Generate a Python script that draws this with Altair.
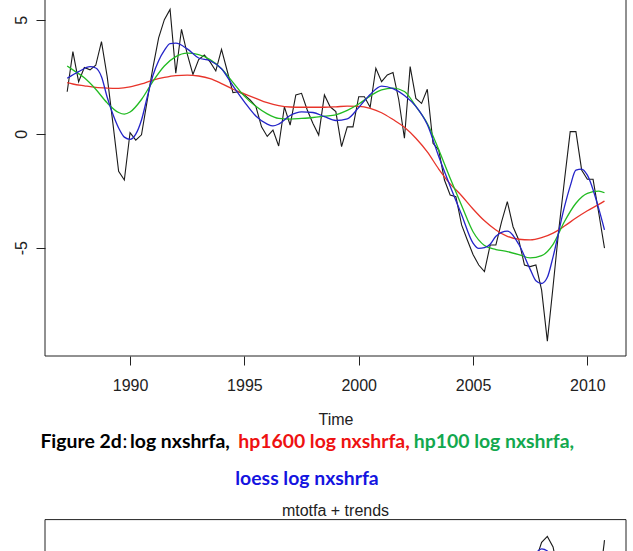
import altair as alt
import pandas as pd

# ---------------- data ----------------
# quarterly time index 1987Q2 .. 2010Q4
time_q = [1987.25 + 0.25 * i for i in range(95)]
log_nxshrfa = [
    1.84, 3.6, 2.28,
    2.9, 2.8, 3.0, 4.04,
    2.5, 0.45, -1.65, -2.03,
    0.05, -0.28, -0.05, 1.45,
    2.9, 4.2, 5.0, 5.45,
    2.65, 4.58, 3.5, 2.6,
    3.25, 3.45, 3.15, 2.75,
    3.7, 2.75, 1.8, 1.84,
    1.7, 1.48, 1.2, 0.3,
    -0.12, 0.16, -0.54, 1.18,
    0.38, 1.7, 1.77, 1.04,
    0.45, -0.06, 1.7, 1.18,
    0.97, -0.57, 0.3, 0.3,
    1.62, 1.62, 1.16, 2.87,
    2.28, 2.58, 2.68, 1.5,
    -0.2, 2.94, 1.55, 1.33,
    1.95, -0.42, -0.72, -2.03,
    -2.69, -2.76, -4.0, -4.66,
    -5.3, -5.76, -6.05, -4.88,
    -4.88, -3.86, -2.98, -4.08,
    -4.66, -5.76, -5.83, -5.76,
    -6.86, -9.1, -6.7, -4.22,
    -2.03, 0.09, 0.09, -1.59,
    -2.0, -2.0, -3.49, -5.02,
]

hp1600_t = [1987.25, 1987.5, 1988.0, 1988.5, 1989.0, 1989.5, 1990.0, 1990.5, 1991.0, 1991.5,
            1992.0, 1992.5, 1993.0, 1993.5, 1994.0, 1994.5, 1995.0, 1995.5, 1996.0, 1996.5,
            1997.0, 1997.5, 1998.0, 1998.5, 1999.0, 1999.5, 2000.0, 2000.5, 2001.0, 2001.5,
            2002.0, 2002.5, 2003.0, 2003.5, 2004.0, 2004.5, 2005.0, 2005.5, 2006.0, 2006.5,
            2007.0, 2007.5, 2008.0, 2008.5, 2009.0, 2009.5, 2010.0, 2010.5, 2010.75]
hp1600_v = [2.24, 2.18, 2.1, 2.03, 2.0, 1.99, 2.05, 2.18, 2.35, 2.47,
            2.55, 2.57, 2.53, 2.42, 2.2, 1.95, 1.75, 1.55, 1.36, 1.23,
            1.17, 1.16, 1.16, 1.16, 1.18, 1.21, 1.2, 1.11, 0.92, 0.62,
            0.28, -0.2, -0.8, -1.55, -2.2, -2.72, -3.3, -3.82, -4.22, -4.5,
            -4.63, -4.66, -4.56, -4.36, -4.05, -3.7, -3.38, -3.1, -2.95]

hp100_t = [1987.25, 1987.5, 1988.0, 1988.5, 1989.0, 1989.5, 1989.75, 1990.0, 1990.5, 1991.0, 1991.5,
           1992.0, 1992.5, 1993.0, 1993.5, 1994.0, 1994.5, 1995.0, 1995.5, 1996.0, 1996.5,
           1997.0, 1997.5, 1998.0, 1998.5, 1999.0, 1999.5, 2000.0, 2000.5, 2001.0, 2001.5,
           2002.0, 2002.5, 2003.0, 2003.5, 2004.0, 2004.5, 2005.0, 2005.5, 2006.0, 2006.5,
           2007.0, 2007.5, 2008.0, 2008.5, 2009.0, 2009.5, 2010.0, 2010.5, 2010.75]
hp100_v = [2.97, 2.8, 2.45, 1.95, 1.35, 0.93, 0.86, 0.95, 1.5, 2.3, 2.97,
           3.38, 3.53, 3.47, 3.25, 2.85, 2.25, 1.65, 1.2, 0.87, 0.67,
           0.64, 0.67, 0.71, 0.77, 0.83, 1.02, 1.3, 1.65, 1.92, 2.0,
           1.85, 1.2, 0.45, -0.7, -1.95, -3.15, -4.3, -4.9, -5.08, -5.17,
           -5.3, -5.45, -5.35, -4.85, -3.85, -3.05, -2.62, -2.52, -2.59]

loess_t = [1987.25, 1987.75, 1988.25, 1988.5, 1988.75, 1989.0, 1989.25, 1989.5, 1989.75, 1990.0,
           1990.25, 1990.5, 1990.75, 1991.0, 1991.25, 1991.5, 1991.75, 1992.0, 1992.5, 1993.0,
           1993.5, 1994.0, 1994.5, 1995.0, 1995.5, 1996.0, 1996.25, 1996.5, 1997.0, 1997.5,
           1998.0, 1998.5, 1999.0, 1999.5, 2000.0, 2000.5, 2001.0, 2001.5, 2002.0, 2002.5,
           2003.0, 2003.5, 2004.0, 2004.5, 2005.0, 2005.25, 2005.5, 2005.75, 2006.0, 2006.5,
           2007.0, 2007.5, 2007.75, 2008.0, 2008.25, 2008.5, 2009.0, 2009.25, 2009.5, 2009.75,
           2010.0, 2010.5, 2010.75]
loess_v = [2.43, 2.72, 2.94, 2.88, 2.5, 1.6, 0.85, 0.25, -0.15, -0.25,
           -0.02, 0.6, 1.6, 2.55, 3.2, 3.65, 3.95, 3.97, 3.72, 3.32,
           3.2, 2.85, 2.1, 1.4, 0.78, 0.42, 0.34, 0.42, 0.8, 0.96,
           0.93, 0.75, 0.58, 0.65, 1.15, 1.72, 2.09, 1.98, 1.68, 1.2,
           0.4, -1.0, -2.3, -3.55, -4.8, -5.03, -5.0, -4.85, -4.5, -4.27,
           -4.85, -5.95, -6.45, -6.57, -6.3, -5.4, -3.2, -2.3, -1.6, -1.55,
           -1.82, -3.3, -4.22]

# second panel (only its top edge is visible)
mtotfa_t = [2007.5, 2007.75, 2008.0, 2008.25, 2008.5, 2008.75, 2010.5, 2010.75]
mtotfa_v = [3.0, 4.25, 5.0, 5.26, 4.8, 3.6, 3.0, 5.1]
mtotfa_seg = ["a", "a", "a", "a", "a", "a", "b", "b"]
mtotfa_loess_t = [2007.5, 2007.75, 2008.0, 2008.25, 2008.5, 2008.75]
mtotfa_loess_v = [3.9, 4.5, 4.72, 4.62, 4.3, 3.8]

x_ticks = [1990, 1995, 2000, 2005, 2010]
y_ticks = [-5, 0, 5]
x_limits = [1986.28, 2011.69]
y_limits = [-9.75, 5.864]
box_top = 6.0
y2_limits = [-9.75, 6.0]

# ---------------- styling ----------------
FONT = "Liberation Sans"
CAP_FONT = "Lato"
AX = "#222222"
W, H = 581, 356

xscale = alt.Scale(domain=x_limits, nice=False, zero=False)
yscale = alt.Scale(domain=y_limits, nice=False, zero=False)
y2scale = alt.Scale(domain=y2_limits, range=[878.7, 519.6], nice=False, zero=False)

x_axis = alt.Axis(values=x_ticks, labelExpr="'' + datum.value", title="Time", grid=False,
                  domain=False, tickSize=9, tickColor=AX, tickWidth=1,
                  labelFont=FONT, labelFontSize=16, labelColor=AX, labelPadding=12,
                  labelFlush=False, titleFont=FONT, titleFontSize=16,
                  titleFontWeight="normal", titleColor=AX, titlePadding=18)
y_axis = alt.Axis(values=y_ticks, labelExpr="'' + datum.value", title=None, grid=False,
                  domain=False, tickSize=9, tickColor=AX, tickWidth=1,
                  labelFont=FONT, labelFontSize=16, labelColor=AX, labelAngle=270,
                  labelAlign="center", labelBaseline="middle", labelPadding=15)


def X():
    return alt.X("t:Q", scale=xscale, axis=x_axis)


def Y():
    return alt.Y("v:Q", scale=yscale, axis=y_axis)


black_df = pd.DataFrame({"t": time_q, "v": log_nxshrfa})
red_df = pd.DataFrame({"t": hp1600_t, "v": hp1600_v})
green_df = pd.DataFrame({"t": hp100_t, "v": hp100_v})
blue_df = pd.DataFrame({"t": loess_t, "v": loess_v})
box_df = pd.DataFrame({"t": [x_limits[0]], "t2": [x_limits[1]],
                       "v": [y_limits[0]], "v2": [box_top]})

black = alt.Chart(black_df).mark_line(color="#1a1a1a", strokeWidth=1.1).encode(x=X(), y=Y())
red = alt.Chart(red_df).mark_line(color="#e8342a", strokeWidth=1.3,
                                  interpolate="monotone").encode(x=X(), y=Y())
green = alt.Chart(green_df).mark_line(color="#22bb22", strokeWidth=1.3,
                                      interpolate="monotone").encode(x=X(), y=Y())
blue = alt.Chart(blue_df).mark_line(color="#2424c8", strokeWidth=1.3,
                                    interpolate="monotone").encode(x=X(), y=Y())
box = alt.Chart(box_df).mark_rect(fill="transparent", stroke=AX, strokeWidth=1).encode(
    x=X(), x2="t2:Q", y=Y(), y2="v2:Q")

one = pd.DataFrame({"a": [0]})


def label(text, x, y, color, weight="bold", align="left", size=19.4, font=CAP_FONT):
    return alt.Chart(one).mark_text(text=text, align=align, baseline="alphabetic",
                                    font=font, fontSize=size, fontWeight=weight,
                                    color=color).encode(x=alt.value(x), y=alt.value(y))


captions = [
    label("Figure 2d", -4.6, 447.6, "#000000"),
    label(":", 77.5, 447.6, "#000000", weight="normal"),
    label("log nxshrfa,", 85, 447.6, "#000000"),
    label("hp1600 log nxshrfa,", 193.2, 447.6, "#ee1111"),
    label("hp100 log nxshrfa,", 368.8, 447.6, "#12a84e"),
    label("loess log nxshrfa", 262, 484.8, "#1414e0", align="center"),
    alt.Chart(one).mark_text(text="mtotfa + trends", align="center", baseline="middle",
                             font=FONT, fontSize=16, color=AX).encode(
        x=alt.value(W / 2), y=alt.value(511)),
]

top = alt.layer(box, black, red, green, blue, *captions)

bot_df = pd.DataFrame({"t": mtotfa_t, "v": mtotfa_v, "seg": mtotfa_seg})
bot_blue_df = pd.DataFrame({"t": mtotfa_loess_t, "v": mtotfa_loess_v})
bot_box_df = pd.DataFrame({"t": [x_limits[0]], "t2": [x_limits[1]],
                           "v": [y2_limits[0]], "v2": [y2_limits[1]]})


def Y2():
    return alt.Y("v:Q", scale=y2scale, axis=None)


bot_box = alt.Chart(bot_box_df).mark_rect(fill="transparent", stroke=AX, strokeWidth=1).encode(
    x=X(), x2="t2:Q", y=Y2(), y2="v2:Q")
bot_black = alt.Chart(bot_df).mark_line(color="#1a1a1a", strokeWidth=1.1).encode(
    x=X(), y=Y2(), detail="seg:N")
bot_blue = alt.Chart(bot_blue_df).mark_line(color="#2424c8", strokeWidth=1.3,
                                            interpolate="monotone").encode(x=X(), y=Y2())
bottom = alt.layer(bot_box, bot_black, bot_blue)

chart = alt.layer(top, bottom).resolve_scale(y="independent").properties(
    width=W, height=H,
    autosize=alt.AutoSizeParams(type="none"),
    padding={"left": 45, "top": 0, "right": 7, "bottom": 195},
    background="white",
).configure_view(stroke=None)

chart.save("out.html", embed_options={"renderer": "svg", "actions": False})
